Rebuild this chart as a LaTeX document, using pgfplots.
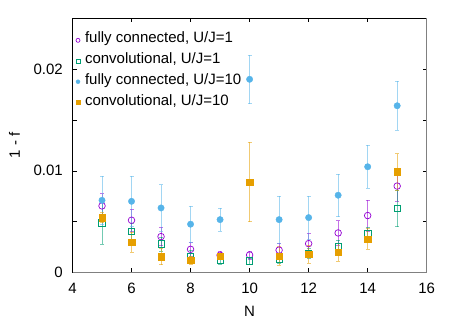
\documentclass[border=0pt]{standalone}
\usepackage{fontspec}
\setmainfont{Liberation Sans}
\usepackage{pgfplots}
\pgfplotsset{compat=1.18}
\definecolor{gpurple}{HTML}{9400D3}
\definecolor{ggreen}{HTML}{009E73}
\definecolor{gblue}{HTML}{56B4E9}
\definecolor{gorange}{HTML}{E69F00}
\newcommand{\fs}{\fontsize{15bp}{18bp}\selectfont}

% N, 1-f, error
\pgfplotstableread{
N y e
5 0.00655 0.0012
6 0.00514 0.0011
7 0.00353 0.0009
8 0.00228 0.0007
9 0.00170 0.0004
10 0.00172 0.0004
11 0.00220 0.0007
12 0.00284 0.0010
13 0.00389 0.0012
14 0.00560 0.0015
15 0.00850 0.0015
}\fcone
\pgfplotstableread{
N y e
5 0.00490 0.0021
6 0.00406 0.0008
7 0.00281 0.0007
8 0.00160 0.0006
9 0.00123 0.0004
10 0.00113 0.0003
11 0.00130 0.0004
12 0.00190 0.0005
13 0.00260 0.0006
14 0.00380 0.0006
15 0.00630 0.0018
}\convone
\pgfplotstableread{
N y e
5 0.00710 0.0024
6 0.00700 0.0025
7 0.00635 0.0023
8 0.00475 0.0018
9 0.00520 0.0011
10 0.01900 0.0024
11 0.00520 0.0023
12 0.00540 0.0021
13 0.00760 0.0021
14 0.01040 0.0021
15 0.01640 0.0024
}\fcten
\pgfplotstableread{
N y e
5 0.00540 0.0005
6 0.00300 0.0010
7 0.00156 0.0008
8 0.00123 0.0004
9 0.00163 0.0003
10 0.00890 0.0039
11 0.00163 0.0009
12 0.00180 0.0009
13 0.00200 0.0009
14 0.00330 0.0010
15 0.00990 0.0018
}\convten

\begin{document}
\begin{tikzpicture}
\begin{axis}[
  scale only axis, width=354.2bp, height=254.2bp,
  xmin=4, xmax=16, ymin=0, ymax=0.025,
  xtick={4,6,...,16}, ytick={0,0.01,0.02}, minor ytick={0.005,0.015},
  scaled y ticks=false,
  tick align=inside, major tick length=4bp, minor tick length=4bp,
  tick style={black, line width=0.6bp},
  axis line style={black, line width=0.8bp},
  xticklabel style={font=\fs, anchor=center, yshift=-15.5bp,
    /pgf/number format/assume math mode=true},
  yticklabel style={font=\fs, anchor=east, inner sep=0pt, xshift=-9.5bp,
    /pgf/number format/fixed, /pgf/number format/precision=2,
    /pgf/number format/assume math mode=true},
  xlabel={N}, ylabel={1 - f},
  label style={font=\fs},
  xlabel style={at={(axis description cs:0.5,-0.1515)}, anchor=center},
  ylabel style={at={(axis description cs:-0.1637,0.5)}, anchor=center},
  legend style={at={(axis description cs:0.0099,0.954)}, anchor=north west,
    draw=none, fill=none, font=\fs, inner sep=0pt, outer sep=0pt,
    row sep=0pt, column sep=5bp,
    nodes={inner sep=0pt, text height=13bp, text depth=7.7bp}},
  legend cell align=left,
  legend image code/.code={\draw[mark size=2bp] plot coordinates {(0bp,0bp)};},
  clip=false,
  error bars/y dir=both, error bars/y explicit,
  error bars/error mark options={rotate=90, mark size=2bp, line width=0.6bp, draw opacity=0.55},
]
\addplot[only marks, mark=o, mark size=3.3bp, gpurple, line width=0.7bp,
  error bars/error bar style={gpurple, line width=0.6bp, draw opacity=0.55}]
  table[x=N, y=y, y error=e] {\fcone};
\addlegendentry{fully connected, U/J=1}
\addplot[only marks, mark=square, mark size=3.2bp, ggreen, line width=0.7bp,
  error bars/error bar style={ggreen, line width=0.6bp, draw opacity=0.55}]
  table[x=N, y=y, y error=e] {\convone};
\addlegendentry{convolutional, U/J=1}
\addplot[only marks, mark=*, mark size=3.2bp, gblue, mark options={draw=gblue, fill=gblue},
  error bars/error bar style={gblue, line width=0.6bp, draw opacity=0.55}]
  table[x=N, y=y, y error=e] {\fcten};
\addlegendentry{fully connected, U/J=10}
\addplot[only marks, mark=square*, mark size=3.2bp, gorange, mark options={draw=gorange, fill=gorange},
  error bars/error bar style={gorange, line width=0.6bp, draw opacity=0.55}]
  table[x=N, y=y, y error=e] {\convten};
\addlegendentry{convolutional, U/J=10}
\draw[gray, line width=1.2bp] (rel axis cs:0,0) -- (rel axis cs:1,0) -- (rel axis cs:1,1);
\draw[draw=none] (axis description cs:-0.2047,-0.2026) rectangle (axis description cs:1.1025,1.072);
\end{axis}
\end{tikzpicture}
\end{document}
